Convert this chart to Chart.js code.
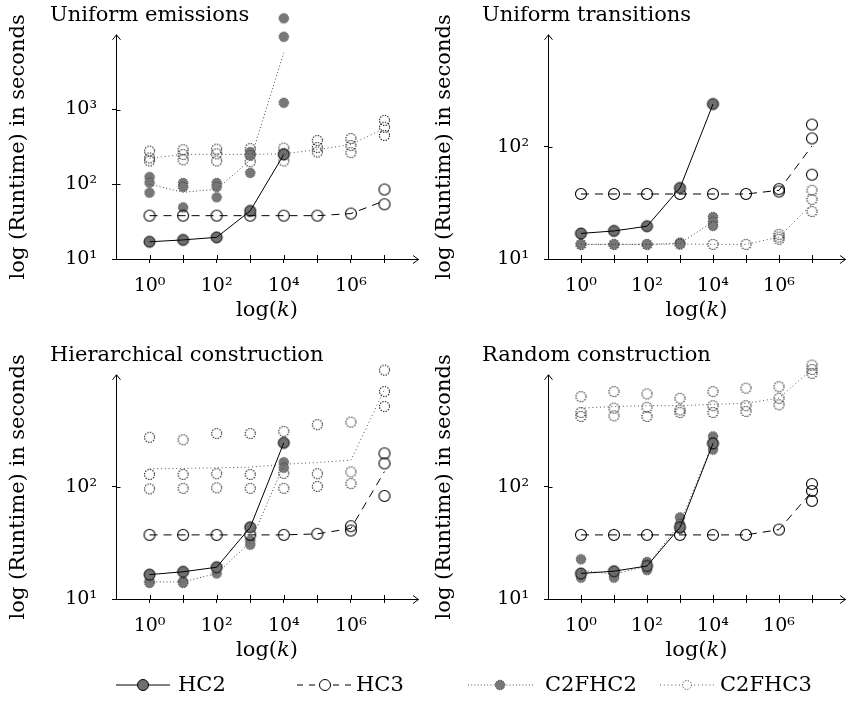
<!DOCTYPE html>
<html>
<head>
<meta charset="utf-8">
<script src="https://cdn.jsdelivr.net/npm/chart.js@4.4.1/dist/chart.umd.min.js"></script>
<style>
  html, body { margin: 0; padding: 0; background: #fff; }
  #wrap { position: relative; width: 852px; height: 710px; overflow: hidden; font-family: "DejaVu Serif", serif; }
  canvas.panel { position: absolute; }
  .leg { position: absolute; top: 672px; height: 26px; }
  .legtxt { position: absolute; top: 671px; font-size: 21px; line-height: 26px; color: #000; }
</style>
</head>
<body>
<div id="wrap">
  <canvas id="p1" class="panel" width="426" height="340" style="left:0;top:0"></canvas>
  <canvas id="p2" class="panel" width="426" height="340" style="left:426px;top:0"></canvas>
  <canvas id="p3" class="panel" width="426" height="340" style="left:0;top:340px"></canvas>
  <canvas id="p4" class="panel" width="426" height="340" style="left:426px;top:340px"></canvas>

  <svg class="leg" style="left:116px" width="56" height="26">
    <line x1="0" y1="13" x2="54" y2="13" stroke="#000" stroke-width="1"/>
    <circle cx="27" cy="13" r="5.5" fill="#6f6f6f" stroke="#000" stroke-width="1"/>
  </svg>
  <div class="legtxt" style="left:178px">HC2</div>

  <svg class="leg" style="left:297px" width="56" height="26">
    <line x1="0" y1="13" x2="55" y2="13" stroke="#000" stroke-width="1" stroke-dasharray="6,6"/>
    <circle cx="28" cy="13" r="5.5" fill="#fff" stroke="#000" stroke-width="1"/>
  </svg>
  <div class="legtxt" style="left:356px">HC3</div>

  <svg class="leg" style="left:468px" width="68" height="26">
    <line x1="0" y1="13" x2="66" y2="13" stroke="#555" stroke-width="1" stroke-dasharray="1,2.2"/>
    <circle cx="32" cy="13" r="4.8" fill="#777" stroke="#333" stroke-width="1" stroke-dasharray="1.2,1.3"/>
  </svg>
  <div class="legtxt" style="left:545px">C2FHC2</div>

  <svg class="leg" style="left:660px" width="56" height="26">
    <line x1="0" y1="13" x2="54" y2="13" stroke="#555" stroke-width="1" stroke-dasharray="1,2.8"/>
    <circle cx="27" cy="13" r="4.5" fill="#fff" stroke="#444" stroke-width="1" stroke-dasharray="1.2,1.5"/>
  </svg>
  <div class="legtxt" style="left:720px">C2FHC3</div>
</div>

<script>
// ---- shared axis values -------------------------------------------------
const kValues = [1, 10, 100, 1e3, 1e4, 1e5, 1e6, 1e7];
const xTickLabels = ['10⁰', '', '10²', '', '10⁴', '', '10⁶', ''];
const yTickValues = [10, 100, 1000];
const yTickLabels = ['10¹', '10²', '10³'];
const seriesNames = ['HC2', 'HC3', 'C2FHC2', 'C2FHC3'];

// ---- Uniform emissions (runtime in seconds, one list of runs per k) ------
const emisHC2 = [[17], [18], [19.5], [44], [250]];
const emisHC2Mean = [17, 18, 19.5, 44, 250];
const emisHC3 = [[38], [38], [38], [38], [38], [38], [40.5], [85, 54]];
const emisHC3Mean = [38, 38, 38, 38, 38, 38, 40.5, 60];
const emisC2FHC2 = [[125, 105, 77], [104, 92, 49], [104, 92, 67], [270, 244, 142], [16600, 9400, 1230]];
const emisC2FHC2Mean = [100, 78, 86, 210, 5750];
const emisC2FHC3 = [[278, 225, 205], [290, 250, 212], [295, 255, 205], [300, 245, 200], [305, 260, 205],
                    [385, 310, 270], [410, 330, 265], [715, 580, 450]];
const emisC2FHC3Mean = [222, 251, 251, 251, 256, 290, 340, 560];

// ---- Uniform transitions ------------------------------------------------
const transHC2 = [[16.9], [17.8], [19.6], [43], [241]];
const transHC2Mean = [16.9, 17.8, 19.6, 43, 241];
const transHC3 = [[38], [38], [38], [38], [38], [38], [42, 40], [158, 119, 56.5]];
const transHC3Mean = [38, 38, 38, 38, 38, 38, 41, 102];
const transC2FHC2 = [[13.5], [13.5], [13.5], [14, 13.6], [23.7, 21.4, 19.7]];
const transC2FHC2Mean = [13.5, 13.5, 13.5, 13.8, 21.5];
const transC2FHC3 = [[13.5], [13.5], [13.5], [13.6], [13.5], [13.5], [16.6, 15.7, 15], [41, 34, 26.5]];
const transC2FHC3Mean = [13.5, 13.5, 13.5, 13.6, 13.5, 13.5, 15.7, 31];

// ---- Hierarchical construction ------------------------------------------
const hierHC2 = [[16.5], [17.5], [19.2], [43.6], [247]];
const hierHC2Mean = [16.5, 17.5, 19.2, 43.6, 247];
const hierHC3 = [[37.3], [37.3], [37.3], [37.3], [37.3], [38.1], [44.6, 40.8], [199, 162, 83]];
const hierHC3Mean = [37.3, 37.3, 37.3, 37.3, 37.3, 38.1, 42.6, 137];
const hierC2FHC2 = [[14.4, 13.9], [14.4, 13.9], [16.9], [33.3, 30.5], [166, 148]];
const hierC2FHC2Mean = [14.2, 14.2, 16.9, 31.9, 157];
const hierC2FHC3 = [[277, 129, 96], [263, 129, 97], [299, 131, 98], [299, 129, 97], [313, 132, 97],
                    [359, 131, 101], [378, 136, 107], [1100, 708, 521]];
const hierC2FHC3Mean = [145, 146, 148, 150, 159, 165, 173, 740];

// ---- Random construction ------------------------------------------------
const randHC2 = [[16.9], [17.7], [19.7], [43.6], [244]];
const randHC2Mean = [16.9, 17.7, 19.7, 43.6, 244];
const randHC3 = [[37.3], [37.3], [37.3], [37.3], [37.3], [37.3], [41.6], [106, 92, 75]];
const randHC3Mean = [37.3, 37.3, 37.3, 37.3, 37.3, 37.3, 41.6, 91];
const randC2FHC2 = [[22.6, 16.3, 15.5], [17.5, 16.5, 15.5], [21.4, 19.7, 18.1], [53.5, 46.8, 42.3], [282, 250, 215]];
const randC2FHC2Mean = [18, 16.6, 19.7, 47.3, 248];
const randC2FHC3 = [[638, 461, 425], [708, 504, 430], [675, 513, 425], [617, 486, 460], [708, 530, 461],
                    [760, 530, 471], [783, 617, 540], [1220, 1115, 1030]];
const randC2FHC3Mean = [504, 521, 530, 530, 545, 557, 620, 1120];

// ---- marker glyphs (circles, some with a dotted outline) ----------------
function markerCanvas(r, fill, stroke, dash, lw) {
  const s = Math.ceil(2 * r + lw + 3);
  const c = document.createElement('canvas');
  c.width = s; c.height = s;
  const g = c.getContext('2d');
  g.beginPath();
  g.arc(s / 2, s / 2, r, 0, Math.PI * 2);
  if (fill) { g.fillStyle = fill; g.fill(); }
  g.setLineDash(dash);
  g.lineWidth = lw;
  g.strokeStyle = stroke;
  g.stroke();
  return c;
}

const look = {
  HC2:    { marker: markerCanvas(5.5, '#6f6f6f', '#000', [], 1),         color: '#000', dash: [] },
  HC3:    { marker: markerCanvas(5.5, null, '#000', [], 1.1),            color: '#000', dash: [8, 6] },
  C2FHC2: { marker: markerCanvas(4.8, '#777', '#333', [1.2, 1.3], 1),    color: '#444', dash: [1, 2.4] },
  C2FHC3: { marker: markerCanvas(5, null, '#111', [1.3, 1.3], 1.1),      color: '#555', dash: [1, 2.8] }
};

const SERIF = '"DejaVu Serif", serif';
const PLOT_TOP = 33;     // pixel row of the upper axis end (arrow tip)
const PLOT_BOTTOM = 259; // pixel row of the x axis

// y axis line with arrow, x arrow, inner tick halves, titles
const axisDeco = {
  id: 'axisDeco',
  afterDraw(chart, args, opts) {
    const { ctx, chartArea: a, scales: { x, y } } = chart;
    const ax = Math.round(a.left - 0.5) + 0.5;
    const yTop = y.getPixelForValue(opts.axisMax);
    ctx.save();
    ctx.strokeStyle = '#000';
    ctx.lineWidth = 1;
    ctx.beginPath();
    ctx.moveTo(ax, a.bottom); ctx.lineTo(ax, yTop);
    x.ticks.forEach(t => {
      const px = Math.round(x.getPixelForValue(t.value)) + 0.5;
      ctx.moveTo(px, a.bottom); ctx.lineTo(px, a.bottom - 4);
    });
    y.ticks.forEach(t => {
      const py = Math.round(y.getPixelForValue(t.value)) + 0.5;
      ctx.moveTo(ax, py); ctx.lineTo(ax + 4, py);
    });
    ctx.moveTo(a.right - 5, a.bottom - 3.5); ctx.lineTo(a.right + 0.5, a.bottom + 0.5); ctx.lineTo(a.right - 5, a.bottom + 4.5);
    ctx.moveTo(ax - 4, yTop + 5); ctx.lineTo(ax, yTop); ctx.lineTo(ax + 4, yTop + 5);
    ctx.stroke();

    ctx.fillStyle = '#000';
    ctx.textBaseline = 'alphabetic';
    ctx.textAlign = 'left';
    ctx.font = '21px ' + SERIF;
    ctx.fillText(opts.title, a.left - 66, 21);

    // vertical axis title, centred on the drawn axis
    ctx.save();
    ctx.translate(18.5, (yTop + a.bottom) / 2);
    ctx.rotate(-Math.PI / 2);
    ctx.textAlign = 'center';
    ctx.textBaseline = 'middle';
    ctx.fillText(opts.yTitle, 0, 0);
    ctx.restore();

    // log(k) with an italic k
    const f1 = '21px ' + SERIF, f2 = 'italic 21px ' + SERIF;
    ctx.font = f1;
    const wA = ctx.measureText('log(').width, wC = ctx.measureText(')').width;
    ctx.font = f2;
    const wB = ctx.measureText('k').width;
    let cx = (a.left + a.right) / 2 - (wA + wB + wC) / 2;
    const base = 316;
    ctx.font = f1; ctx.fillText('log(', cx, base); cx += wA;
    ctx.font = f2; ctx.fillText('k', cx, base); cx += wB;
    ctx.font = f1; ctx.fillText(')', cx, base);
    ctx.restore();
  }
};

function pointsOf(runs) {
  const out = [];
  runs.forEach((list, i) => list.forEach(v => out.push({ x: kValues[i], y: v })));
  return out;
}
function lineOf(vals) {
  return vals.map((v, i) => ({ x: kValues[i], y: v }));
}

function buildPanel(id, title, yMax, axisLeft, axisRight, series) {
  // the plot area reaches a little above the axis end so runs beyond it stay visible
  const decades = Math.log10(yMax) - 1;
  const pxPerDecade = (PLOT_BOTTOM - PLOT_TOP) / decades;
  const headroom = 28;
  const scaleMax = yMax * Math.pow(10, headroom / pxPerDecade);

  const lineSets = seriesNames.map(name => ({
    label: name + ' mean',
    data: lineOf(series[name][1]),
    showLine: true,
    pointRadius: 0,
    borderColor: look[name].color,
    borderDash: look[name].dash,
    borderWidth: 1,
    clip: false
  }));
  const pointSets = seriesNames.map(name => ({
    label: name,
    data: pointsOf(series[name][0]),
    showLine: false,
    pointStyle: look[name].marker,
    pointRadius: 6,
    clip: false
  }));
  const canvas = document.getElementById(id);
  const H = canvas.height, W = canvas.width;
  return new Chart(canvas, {
    type: 'scatter',
    data: { datasets: lineSets.concat(pointSets) },
    plugins: [axisDeco],
    options: {
      responsive: false,
      animation: false,
      devicePixelRatio: 1,
      layout: { padding: { top: PLOT_TOP - headroom, right: W - axisRight, left: 0, bottom: 0 } },
      plugins: {
        legend: { display: false },
        tooltip: { enabled: false },
        axisDeco: { title: title, axisMax: yMax, yTitle: 'log (Runtime) in seconds' }
      },
      scales: {
        x: {
          type: 'logarithmic',
          position: 'bottom',
          min: 0.1,
          max: 1e8,
          afterBuildTicks: s => { s.ticks = kValues.map(v => ({ value: v })); },
          afterFit: s => { s.height = H - PLOT_BOTTOM; s.paddingLeft = 0; s.paddingRight = 0; },
          grid: { display: true, drawOnChartArea: false, drawTicks: true, tickLength: 4, color: '#000', lineWidth: 1 },
          border: { display: true, color: '#000', width: 1 },
          ticks: {
            autoSkip: false, maxRotation: 0, padding: 12, color: '#000',
            font: { family: SERIF, size: 19 },
            callback: v => xTickLabels[kValues.indexOf(v)] ?? ''
          }
        },
        y: {
          type: 'logarithmic',
          position: 'left',
          min: 10,
          max: scaleMax,
          afterBuildTicks: s => { s.ticks = yTickValues.filter(v => v < yMax).map(v => ({ value: v })); },
          afterFit: s => { s.width = axisLeft; s.paddingTop = 0; s.paddingBottom = 0; },
          grid: { display: true, drawOnChartArea: false, drawTicks: true, tickLength: 4, color: '#000', lineWidth: 1 },
          border: { display: false },
          ticks: {
            padding: 15, color: '#000',
            font: { family: SERIF, size: 19 },
            callback: v => yTickLabels[yTickValues.indexOf(v)] ?? ''
          },
          title: { display: false }
        }
      }
    }
  });
}

buildPanel('p1', 'Uniform emissions', 1e4, 116, 418, {
  HC2: [emisHC2, emisHC2Mean], HC3: [emisHC3, emisHC3Mean],
  C2FHC2: [emisC2FHC2, emisC2FHC2Mean], C2FHC3: [emisC2FHC3, emisC2FHC3Mean]
});
buildPanel('p2', 'Uniform transitions', 1e3, 122, 423, {
  HC2: [transHC2, transHC2Mean], HC3: [transHC3, transHC3Mean],
  C2FHC2: [transC2FHC2, transC2FHC2Mean], C2FHC3: [transC2FHC3, transC2FHC3Mean]
});
buildPanel('p3', 'Hierarchical construction', 1e3, 116, 418, {
  HC2: [hierHC2, hierHC2Mean], HC3: [hierHC3, hierHC3Mean],
  C2FHC2: [hierC2FHC2, hierC2FHC2Mean], C2FHC3: [hierC2FHC3, hierC2FHC3Mean]
});
buildPanel('p4', 'Random construction', 1e3, 122, 423, {
  HC2: [randHC2, randHC2Mean], HC3: [randHC3, randHC3Mean],
  C2FHC2: [randC2FHC2, randC2FHC2Mean], C2FHC3: [randC2FHC3, randC2FHC3Mean]
});
</script>
</body>
</html>
